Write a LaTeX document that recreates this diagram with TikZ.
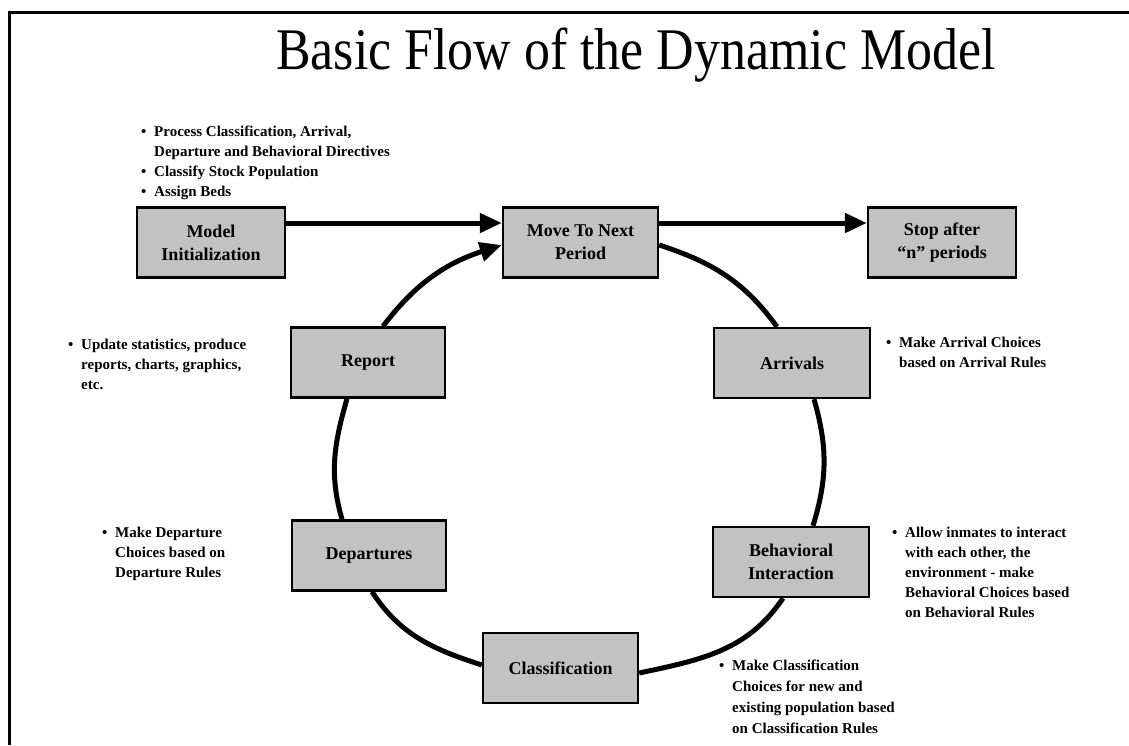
\documentclass[tikz,border=0pt]{standalone}
\usepackage{fontspec}
\setmainfont{Liberation Serif}
\usetikzlibrary{arrows.meta,backgrounds}

\definecolor{boxfill}{gray}{0.76}

\tikzset{
  stepbox/.style={draw=black, line width=2.4pt, fill=boxfill, minimum height=70pt,
    inner sep=0pt, align=center, font=\bfseries\fontsize{18}{23}\selectfont},
  flow/.style={line width=5pt, -{Triangle[length=22pt,width=19pt]}},
  cycle/.style={line width=5pt},
  note/.style={anchor=north west, align=left, inner sep=0pt,
    font=\bfseries\fontsize{15}{20}\selectfont},
}
\newcommand{\bul}{\makebox[13pt][l]{\textbullet}}
\newcommand{\ind}{\hspace*{13pt}}

\begin{document}
\begin{tikzpicture}[x=1pt,y=-1pt]
\useasboundingbox (0,0) rectangle (1129,745);

% slide frame
\draw[line width=3pt] (9,745) -- (9,12) -- (1129,12);

% title
\node (title) at (636,55) {\scalebox{0.88}[1]{\fontsize{59}{59}\selectfont Basic Flow of the Dynamic Model}};

% process boxes
\node[stepbox, minimum width=148pt] (init)  at (211,242.5) {Model\\Initialization};
\node[stepbox, minimum width=155pt] (move)  at (580.5,242.5) {Move To Next\\Period};
\node[stepbox, minimum width=148pt] (stop)  at (942,242.5) {Stop after\\“n” periods};
\node[stepbox, minimum width=154pt] (report) at (368,362.5) {Report};
\node[stepbox, minimum width=156pt] (arrivals) at (792,363) {Arrivals};
\node[stepbox, minimum width=154pt] (departures) at (369,555.5) {Departures};
\node[stepbox, minimum width=156pt] (behav) at (791,562) {Behavioral\\Interaction};
\node[stepbox, minimum width=155pt] (classif) at (560.5,668) {Classification};

% bullet notes
\node[note] (initnote) at (141,126) {\bul Process Classification, Arrival,\\\ind Departure and Behavioral Directives\\\bul Classify Stock Population\\\bul Assign Beds};
\node[note] (reportnote) at (68,339) {\bul Update statistics, produce\\\ind reports, charts, graphics,\\\ind etc.};
\node[note] (departnote) at (102,527) {\bul Make Departure\\\ind Choices based on\\\ind Departure Rules};
\node[note] (arrivenote) at (886,337) {\bul Make Arrival Choices\\\ind based on Arrival Rules};
\node[note] (behavnote) at (892,527) {\bul Allow inmates to interact\\\ind with each other, the\\\ind environment - make\\\ind Behavioral Choices based\\\ind on Behavioral Rules};
\node[note, font=\bfseries\fontsize{15}{21}\selectfont] (classnote) at (719,660) {\bul Make Classification\\\ind Choices for new and\\\ind existing population based\\\ind on Classification Rules};

% connectors
\begin{scope}[on background layer]
\draw[flow] ([yshift=19.5pt]init.east) -- ([yshift=19.5pt]move.west);
\draw[flow] ([yshift=19.5pt]move.east) -- ([yshift=19.5pt]stop.west);
\draw[cycle] ([yshift=-2.5pt]move.east) to[out=-18,in=126] ([xshift=-15pt]arrivals.north);
\draw[cycle] ([xshift=22pt]arrivals.south) to[out=-74,in=73] ([xshift=22pt]behav.north);
\draw[cycle] ([xshift=-8pt]behav.south) to[out=-124,in=12] ([yshift=-5pt]classif.east);
\draw[cycle] ([yshift=3pt]classif.west) to[out=162,in=-57] ([xshift=3pt]departures.south);
\draw[cycle] ([xshift=-27pt]departures.north) to[out=106,in=-106] ([xshift=-21pt]report.south);
\draw[flow] ([xshift=15pt]report.north) to[out=53,in=198] ([yshift=-2.5pt]move.west);
\end{scope}
\end{tikzpicture}
\end{document}
